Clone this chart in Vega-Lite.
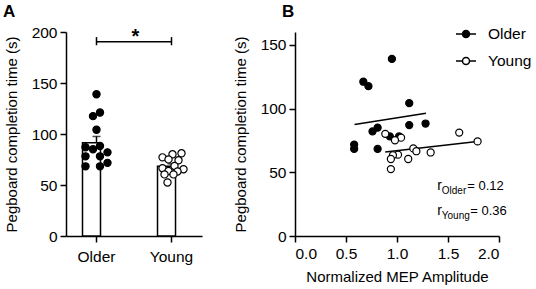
{
  "$schema": "https://vega.github.io/schema/vega-lite/v6.json",
  "padding": {"left": 3, "top": 3, "right": 0, "bottom": 0},
  "bounds": "flush",
  "spacing": 93,
  "config": {
    "font": "Liberation Sans",
    "view": {"stroke": null},
    "axis": {
      "domainColor": "black", "domainWidth": 1.5, "tickColor": "black", "tickWidth": 1.5,
      "tickSize": 6, "labelColor": "black", "labelFontSize": 15.5, "titleFontSize": 15,
      "titleFontWeight": "normal", "titleColor": "black", "grid": false, "labelFont": "Liberation Sans", "titleFont": "Liberation Sans"
    },
    "title": {"font": "Liberation Sans", "fontSize": 17, "fontWeight": "bold", "color": "black"}
  },
  "resolve": {"scale": {"fill": "independent", "x": "independent", "y": "independent"}, "legend": {"fill": "independent"}},
  "datasets": {
    "subjects": [
      {"group": "Older", "time": 138.9, "mep": 0.95, "col": 0},
      {"group": "Older", "time": 121.0, "mep": 0.67, "col": 3.5},
      {"group": "Older", "time": 117.5, "mep": 0.72, "col": -3.5},
      {"group": "Older", "time": 104.2, "mep": 1.12, "col": 0},
      {"group": "Older", "time": 88.2, "mep": 1.28, "col": 3.5},
      {"group": "Older", "time": 87.0, "mep": 1.12, "col": -11},
      {"group": "Older", "time": 85.0, "mep": 0.81, "col": -3.5},
      {"group": "Older", "time": 82.0, "mep": 0.76, "col": 11},
      {"group": "Older", "time": 78.1, "mep": 0.93, "col": -11},
      {"group": "Older", "time": 78.1, "mep": 1.02, "col": 3.5},
      {"group": "Older", "time": 71.7, "mep": 0.58, "col": 11},
      {"group": "Older", "time": 68.3, "mep": 0.58, "col": -11},
      {"group": "Older", "time": 68.3, "mep": 0.81, "col": 3.5},
      {"group": "Young", "time": 81.1, "mep": 1.61, "col": 10},
      {"group": "Young", "time": 80.1, "mep": 0.885, "col": 1},
      {"group": "Young", "time": 77.1, "mep": 1.04, "col": -9},
      {"group": "Young", "time": 75.1, "mep": 0.98, "col": -3},
      {"group": "Young", "time": 74.2, "mep": 1.79, "col": 7},
      {"group": "Young", "time": 68.7, "mep": 1.16, "col": 3},
      {"group": "Young", "time": 66.5, "mep": 1.19, "col": -9},
      {"group": "Young", "time": 65.5, "mep": 1.33, "col": 12},
      {"group": "Young", "time": 63.8, "mep": 1.01, "col": -3},
      {"group": "Young", "time": 63.3, "mep": 0.96, "col": 6},
      {"group": "Young", "time": 60.4, "mep": 0.94, "col": -7},
      {"group": "Young", "time": 60.4, "mep": 1.11, "col": 2},
      {"group": "Young", "time": 52.5, "mep": 0.94, "col": -4}
    ],
    "fits": [
      {"group": "Older", "mep": 0.584, "time": 87.5},
      {"group": "Older", "mep": 1.284, "time": 96.3},
      {"group": "Young", "mep": 0.884, "time": 65.8},
      {"group": "Young", "mep": 1.787, "time": 74.2}
    ],
    "rvals": [
      {"label": "Older", "val": "= 0.12", "mep": 1.395, "time": 36},
      {"label": "Young", "val": "= 0.36", "mep": 1.395, "time": 16.8}
    ],
    "bracket": [
      {"from": "Older", "to": "Young", "level": 190.5}
    ],
    "bracketEnds": [
      {"group": "Older", "lo": 187, "hi": 195},
      {"group": "Young", "lo": 187, "hi": 195}
    ]
  },
  "hconcat": [
    {
      "width": 136,
      "height": 204,
      "title": {"text": "A", "anchor": "start", "frame": "group", "dx": -63, "offset": 4},
      "layer": [
        {
          "data": {"name": "subjects"},
          "mark": {"type": "errorbar", "extent": "stderr", "color": "black", "thickness": 1.5, "ticks": {"size": 8, "thickness": 1.5, "color": "black"}},
          "encoding": {
            "x": {"field": "group", "type": "nominal", "title": null,
                  "scale": {"paddingInner": 0.627, "paddingOuter": 0.22},
                  "axis": {"labelAngle": 0, "labelPadding": 7}},
            "y": {"field": "time", "type": "quantitative", "title": "Pegboard completion time (s)",
                  "scale": {"domain": [0, 200]},
                  "axis": {"values": [0, 50, 100, 150, 200], "titlePadding": 12, "labelPadding": 3}}
          }
        },
        {
          "data": {"name": "subjects"},
          "mark": {"type": "bar", "fill": "white", "stroke": "black", "strokeWidth": 1.5},
          "encoding": {
            "x": {"field": "group", "type": "nominal"},
            "y": {"field": "time", "aggregate": "mean", "type": "quantitative"}
          }
        },
        {
          "data": {"name": "subjects"},
          "mark": {"type": "point", "shape": "circle", "size": 52, "stroke": "black", "strokeWidth": 1.2, "opacity": 1},
          "encoding": {
            "x": {"field": "group", "type": "nominal"},
            "xOffset": {"field": "col", "type": "quantitative", "scale": {"domain": [-14, 14]}},
            "y": {"field": "time", "type": "quantitative"},
            "fill": {"field": "group", "type": "nominal", "scale": {"domain": ["Older", "Young"], "range": ["black", "white"]}, "legend": null}
          }
        },
        {
          "data": {"name": "bracket"},
          "mark": {"type": "rule", "color": "black", "strokeWidth": 1.5},
          "encoding": {
            "x": {"field": "from", "type": "nominal"},
            "x2": {"field": "to"},
            "y": {"field": "level", "type": "quantitative"}
          }
        },
        {
          "data": {"name": "bracketEnds"},
          "mark": {"type": "rule", "color": "black", "strokeWidth": 1.5},
          "encoding": {
            "x": {"field": "group", "type": "nominal"},
            "y": {"field": "lo", "type": "quantitative"},
            "y2": {"field": "hi"}
          }
        },
        {
          "data": {"name": "bracket"},
          "mark": {"type": "text", "text": "*", "fontSize": 20, "fontWeight": "bold", "dx": 39, "dy": 5, "baseline": "bottom", "color": "black"},
          "encoding": {
            "x": {"field": "from", "type": "nominal"},
            "y": {"field": "level", "type": "quantitative"}
          }
        }
      ]
    },
    {
      "width": 204,
      "height": 204,
      "title": {"text": "B", "anchor": "start", "frame": "group", "dx": -13, "offset": 2},
      "layer": [
        {
          "data": {"name": "fits"},
          "mark": {"type": "line", "color": "black", "strokeWidth": 1.5},
          "encoding": {
            "x": {"field": "mep", "type": "quantitative", "title": "Normalized MEP Amplitude",
                  "scale": {"domain": [0, 2]},
                  "axis": {"values": [0, 0.25, 0.5, 0.75, 1, 1.25, 1.5, 1.75, 2], "format": ".1f",
                           "labelExpr": "datum.value % 0.5 === 0 ? datum.label : ''", "labelPadding": 4, "titlePadding": 8}},
            "y": {"field": "time", "type": "quantitative", "title": "Pegboard completion time (s)",
                  "scale": {"domain": [0, 150]},
                  "axis": {"values": [0, 25, 50, 75, 100, 125, 150],
                           "labelExpr": "datum.value % 50 === 0 ? datum.label : ''", "titlePadding": 12, "labelPadding": 3}},
            "detail": {"field": "group"}
          }
        },
        {
          "data": {"name": "subjects"},
          "mark": {"type": "point", "shape": "circle", "size": 50, "stroke": "black", "strokeWidth": 1.2, "opacity": 1},
          "encoding": {
            "x": {"field": "mep", "type": "quantitative"},
            "y": {"field": "time", "type": "quantitative"},
            "fill": {"field": "group", "type": "nominal",
                     "scale": {"domain": ["Older", "Young"], "range": ["black", "white"]},
                     "legend": {"title": null, "orient": "none", "legendX": 160, "legendY": -9,
                                "symbolType": "M-1,0L-0.35,0M0.35,0L1,0M0.35,0A0.35,0.35,0,1,1,-0.35,0A0.35,0.35,0,1,1,0.35,0Z",
                                "symbolSize": 400, "symbolStrokeColor": "black", "symbolStrokeWidth": 1.5,
                                "labelFontSize": 15.5, "labelColor": "black", "labelFont": "Liberation Sans",
                                "labelOffset": 11, "rowPadding": 7, "padding": 0}}
          }
        },
        {
          "data": {"name": "rvals"},
          "mark": {"type": "text", "text": "r", "fontSize": 14, "align": "left", "baseline": "alphabetic", "color": "black"},
          "encoding": {
            "x": {"field": "mep", "type": "quantitative"},
            "y": {"field": "time", "type": "quantitative"}
          }
        },
        {
          "data": {"name": "rvals"},
          "mark": {"type": "text", "fontSize": 10, "align": "left", "baseline": "alphabetic", "dx": 4.5, "dy": 4, "color": "black"},
          "encoding": {
            "x": {"field": "mep", "type": "quantitative"},
            "y": {"field": "time", "type": "quantitative"},
            "text": {"field": "label"}
          }
        },
        {
          "data": {"name": "rvals"},
          "transform": [{"filter": "datum.label === 'Older'"}],
          "mark": {"type": "text", "fontSize": 13, "align": "left", "baseline": "alphabetic", "dx": 30, "color": "black"},
          "encoding": {
            "x": {"field": "mep", "type": "quantitative"},
            "y": {"field": "time", "type": "quantitative"},
            "text": {"field": "val"}
          }
        },
        {
          "data": {"name": "rvals"},
          "transform": [{"filter": "datum.label === 'Young'"}],
          "mark": {"type": "text", "fontSize": 13, "align": "left", "baseline": "alphabetic", "dx": 33, "color": "black"},
          "encoding": {
            "x": {"field": "mep", "type": "quantitative"},
            "y": {"field": "time", "type": "quantitative"},
            "text": {"field": "val"}
          }
        }
      ]
    }
  ]
}
